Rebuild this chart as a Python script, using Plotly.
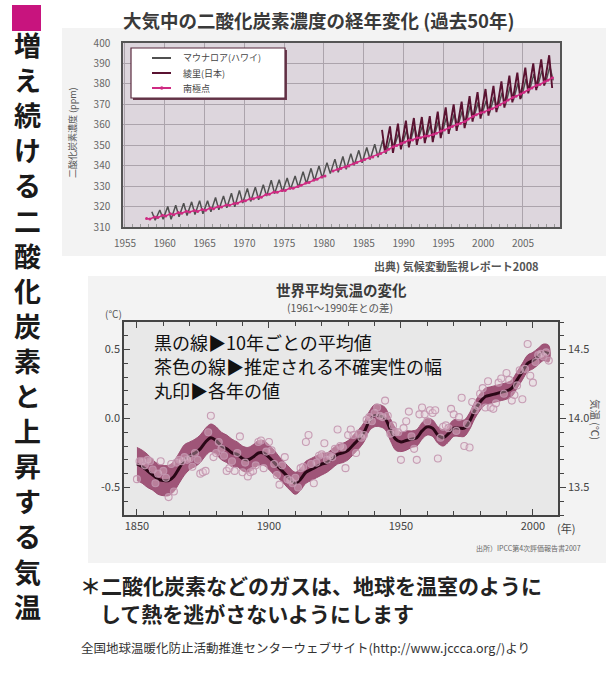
import plotly.graph_objects as go

W, H = 610, 678
FONT = "Noto Sans CJK JP"


def px(x):
    return x / W


def py(y):
    return 1 - y / H


# ---------------- CO2 data (ppm) ----------------
mlo_years = list(range(1958, 2009))
mlo_peak = [317.5, 318.3, 320.0, 320.6, 321.6, 322.3, 322.9, 322.8, 324.4, 325.2,
            326.5, 327.9, 328.9, 329.5, 330.7, 332.9, 333.1, 334.0, 335.0, 337.1,
            338.7, 339.9, 341.5, 343.2, 344.5, 345.9, 347.5, 348.9, 350.5, 352.4,
            354.2, 355.7, 357.2, 359.1, 359.6, 359.8, 361.8, 363.6, 365.3, 366.8,
            369.5, 371.0, 371.8, 373.6, 375.7, 378.6, 380.4, 382.4, 384.8, 386.4,
            388.5]
mlo_trough = [313.3, 313.8, 313.8, 315.0, 315.6, 316.1, 316.5, 317.4, 318.4, 319.4,
              319.9, 321.7, 322.5, 323.3, 325.1, 326.3, 327.2, 328.4, 329.3, 331.2,
              332.5, 333.9, 336.1, 336.8, 338.2, 340.2, 341.4, 343.0, 344.1, 345.8,
              349.0, 349.7, 351.0, 352.3, 353.0, 353.8, 355.2, 357.4, 359.0, 359.9,
              363.2, 364.5, 365.7, 367.6, 369.5, 372.0, 373.1, 376.5, 378.1, 379.9,
              381.7]
mlo_months = (5, 10)  # month of seasonal maximum / minimum

ryo_years = list(range(1987, 2009))
ryo_peak = [357.5, 359.2, 360.6, 362.0, 363.3, 363.8, 364.2, 366.4, 368.5, 370.0,
            371.3, 374.0, 376.0, 377.5, 379.0, 381.2, 384.0, 385.5, 388.0, 390.0,
            392.0, 394.0]
ryo_trough = [346.5, 346.3, 348.0, 349.0, 350.2, 351.0, 351.5, 353.5, 355.6, 357.0,
              358.4, 361.5, 363.0, 364.5, 366.2, 368.4, 371.0, 372.6, 375.4, 377.0,
              379.2, 378.0]
ryo_months = (4, 8.5)

sp_years = list(range(1957, 2009))
sp_low = [None, 313.9, 314.6, 315.4, 316.0, 316.7, 317.3, 317.6, 318.2, 318.9, 319.8,
          320.6, 321.6, 322.8, 323.8, 324.6, 326.0, 327.0, 327.9, 329.0, 330.4,
          331.8, 333.4, 335.0, 337.4, 338.6, 339.8, 341.6, 343.0, 344.3, 346.0,
          348.0, 349.9, 351.5, 352.6, 353.7, 354.5, 355.8, 357.4, 359.2, 360.6,
          362.8, 364.9, 366.3, 367.8, 369.8, 372.1, 373.9, 375.9, 378.0, 379.7,
          381.8]
sp_high = [314.2, 314.9, 315.7, 316.5, 317.1, 317.7, 318.1, 318.6, 319.3, 320.0,
           320.8, 321.5, 322.7, 323.8, 324.7, 325.9, 327.1, 327.9, 329.0, 329.8,
           331.5, 333.0, 334.5, None, 338.2, 339.3, 340.9, 342.4, 343.8, 345.3,
           347.0, 349.3, 350.8, 352.5, 353.6, 354.5, 355.2, 356.9, 358.6, 360.3,
           361.6, 364.2, 365.9, 367.3, 369.0, 371.0, 373.3, 375.0, 377.2, 379.3,
           381.0, 383.0]
sp_months = (2, 9)

co2_xticks = list(range(1955, 2010, 5))
co2_yticks = list(range(310, 401, 10))
co2_names = ["マウナロア(ハワイ)", "綾里(日本)", "南極点"]
co2_colors = ["#505050", "#5a1231", "#cf2a82"]

# ---------------- Temperature data (°C anomaly vs 1961-1990) ----------------
temp_baseline = 14.0  # 1961-1990 mean, links left and right axes
temp_years = list(range(1850, 2007))
temp_annual = [
    -0.44, -0.31, -0.31, -0.34, -0.30, -0.31, -0.37, -0.47, -0.40, -0.31,
    -0.38, -0.43, -0.57, -0.33, -0.53, -0.32, -0.30, -0.31, -0.28, -0.30,
    -0.29, -0.35, -0.25, -0.30, -0.40, -0.39, -0.38, -0.10, 0.02, -0.28,
    -0.25, -0.17, -0.22, -0.27, -0.38, -0.36, -0.31, -0.38, -0.25, -0.13,
    -0.39, -0.32, -0.42, -0.39, -0.38, -0.34, -0.17, -0.16, -0.36, -0.24,
    -0.17, -0.23, -0.33, -0.41, -0.48, -0.34, -0.28, -0.44, -0.45, -0.47,
    -0.43, -0.50, -0.36, -0.35, -0.17, -0.12, -0.33, -0.47, -0.32, -0.27,
    -0.26, -0.18, -0.30, -0.27, -0.28, -0.22, -0.08, -0.20, -0.21, -0.36,
    -0.12, -0.08, -0.12, -0.25, -0.11, -0.14, -0.12, -0.01, 0.01, -0.02,
    0.04, 0.08, 0.02, 0.01, 0.13, 0.02, -0.11, -0.05, -0.10, -0.10,
    -0.30, -0.07, -0.02, 0.05, -0.13, -0.22, -0.30, 0.03, 0.08, 0.03,
    -0.02, 0.06, 0.04, 0.06, -0.29, -0.14, -0.06, -0.05, -0.07, 0.07,
    0.03, -0.09, 0.01, 0.15, -0.20, -0.04, -0.21, 0.12, 0.06, 0.09,
    0.18, 0.22, 0.08, 0.27, 0.08, 0.07, 0.11, 0.26, 0.29, 0.18,
    0.33, 0.28, 0.13, 0.17, 0.24, 0.35, 0.14, 0.36, 0.54, 0.31,
    0.26, 0.41, 0.46, 0.47, 0.45, 0.48, 0.42]

smooth_years = list(range(1850, 2007, 2))
temp_smooth = [
    -0.33, -0.35, -0.38, -0.41, -0.44, -0.45, -0.45, -0.42, -0.36, -0.30,
    -0.27, -0.25, -0.22, -0.17, -0.14, -0.16, -0.20, -0.22, -0.25, -0.26,
    -0.29, -0.30, -0.28, -0.25, -0.25, -0.28, -0.32, -0.36, -0.40, -0.44,
    -0.47, -0.44, -0.39, -0.37, -0.35, -0.33, -0.32, -0.29, -0.26, -0.25,
    -0.23, -0.19, -0.15, -0.10, -0.02, 0.02, 0.02, 0.00, -0.08, -0.15,
    -0.17, -0.16, -0.15, -0.14, -0.09, -0.06, -0.07, -0.12, -0.14, -0.11,
    -0.07, -0.07, -0.07, -0.02, 0.06, 0.12, 0.16, 0.17, 0.18, 0.19,
    0.20, 0.22, 0.28, 0.34, 0.40, 0.42, 0.45, 0.48, 0.47]
temp_unc = [
    0.12, 0.12, 0.12, 0.11, 0.11, 0.11, 0.11, 0.11, 0.11, 0.11,
    0.10, 0.10, 0.10, 0.10, 0.10, 0.10, 0.10, 0.10, 0.10, 0.09,
    0.09, 0.09, 0.09, 0.09, 0.09, 0.09, 0.09, 0.08, 0.08, 0.08,
    0.08, 0.08, 0.08, 0.08, 0.08, 0.08, 0.07, 0.07, 0.07, 0.07,
    0.07, 0.07, 0.07, 0.07, 0.07, 0.08, 0.08, 0.08, 0.08, 0.08,
    0.07, 0.07, 0.06, 0.06, 0.06, 0.06, 0.06, 0.06, 0.06, 0.06,
    0.06, 0.06, 0.06, 0.06, 0.06, 0.06, 0.06, 0.06, 0.06, 0.06,
    0.06, 0.06, 0.06, 0.06, 0.06, 0.06, 0.06, 0.06, 0.06]
temp_xticks = [1850, 1900, 1950, 2000]
anom_ticks = [-0.5, 0.0, 0.5]
abs_ticks = [13.5, 14.0, 14.5]

page_title = "増え続ける二酸化炭素と上昇する気温"


def seasonal(years, a, b, months):
    xs, ys = [], []
    for yr, va, vb in zip(years, a, b):
        xs += [yr + (months[0] - 0.5) / 12, yr + (months[1] - 0.5) / 12]
        ys += [va, vb]
    return xs, ys


fig = go.Figure()

# CO2 traces
x, y = seasonal(mlo_years, mlo_peak, mlo_trough, mlo_months)
fig.add_trace(go.Scatter(x=x, y=y, mode="lines", name=co2_names[0],
                         line=dict(color=co2_colors[0], width=1.5), xaxis="x", yaxis="y"))
x, y = seasonal(ryo_years, ryo_peak, ryo_trough, ryo_months)
fig.add_trace(go.Scatter(x=x, y=y, mode="lines", name=co2_names[1],
                         line=dict(color=co2_colors[1], width=1.9), xaxis="x", yaxis="y"))
x, y = seasonal(sp_years, sp_low, sp_high, sp_months)
fig.add_trace(go.Scatter(x=x, y=y, mode="lines+markers", name=co2_names[2],
                         line=dict(color=co2_colors[2], width=1.5),
                         marker=dict(size=3, color=co2_colors[2]),
                         xaxis="x", yaxis="y"))

# Temperature traces
upper = [s + u for s, u in zip(temp_smooth, temp_unc)]
lower = [s - u for s, u in zip(temp_smooth, temp_unc)]
fig.add_trace(go.Scatter(x=smooth_years + smooth_years[::-1], y=upper + lower[::-1],
                         fill="toself", fillcolor="rgba(152,72,110,0.92)",
                         line=dict(color="rgba(152,72,110,0.92)", width=1, shape="spline"),
                         mode="lines", showlegend=False, hoverinfo="skip",
                         xaxis="x2", yaxis="y2"))
fig.add_trace(go.Scatter(x=smooth_years, y=temp_smooth, mode="lines", showlegend=False,
                         line=dict(color="#2a0716", width=3, shape="spline"),
                         xaxis="x2", yaxis="y2"))
# annual values, plotted against the absolute-temperature (right) axis
fig.add_trace(go.Scatter(x=temp_years, y=[temp_baseline + v for v in temp_annual],
                         mode="markers", showlegend=False,
                         marker=dict(size=7, color="rgba(235,210,222,0.35)",
                                     line=dict(color="rgba(195,150,175,0.9)", width=1.1)),
                         xaxis="x2", yaxis="y3"))

shapes = [
    # panels
    dict(type="rect", xref="paper", yref="paper", x0=px(62), x1=px(606), y0=py(256), y1=py(28),
         fillcolor="#f3f3f3", line=dict(width=0), layer="below"),
    dict(type="rect", xref="paper", yref="paper", x0=px(88), x1=px(606), y0=py(563), y1=py(276),
         fillcolor="#f3f3f3", line=dict(width=0), layer="below"),
    # plot backgrounds
    dict(type="rect", xref="x domain", yref="y domain", x0=0, x1=1, y0=0, y1=1,
         fillcolor="#ddd6dd", line=dict(width=0), layer="below"),
    dict(type="rect", xref="x2 domain", yref="y2 domain", x0=0, x1=1, y0=0, y1=1,
         fillcolor="#e8e8e8", line=dict(width=0), layer="below"),
    # magenta square
    dict(type="rect", xref="paper", yref="paper", x0=px(12), x1=px(41), y0=py(31), y1=py(5),
         fillcolor="#c8147e", line=dict(width=0)),
    # legend box (shadow + box)
    dict(type="rect", xref="paper", yref="paper", x0=px(133), x1=px(287), y0=py(100), y1=py(50),
         fillcolor="#6a3a4e", line=dict(width=0)),
    dict(type="rect", xref="paper", yref="paper", x0=px(131), x1=px(285), y0=py(98), y1=py(48),
         fillcolor="white", line=dict(color="#5a2a3e", width=1.2)),
]

ann = []


def A(text, x, y, size, color="#333", xanchor="center", yanchor="middle", angle=0):
    ann.append(dict(text=text, x=px(x), y=py(y), xref="paper", yref="paper",
                    xanchor=xanchor, yanchor=yanchor, showarrow=False, textangle=angle,
                    font=dict(family=FONT, size=size, color=color)))


# manual legend entries
for i, (nm, col) in enumerate(zip(co2_names, co2_colors)):
    ly = 58 + i * 15
    shapes.append(dict(type="line", xref="paper", yref="paper", x0=px(152), x1=px(171),
                       y0=py(ly), y1=py(ly), line=dict(color=col, width=2)))
    A(nm, 181, ly, 9, "#444", xanchor="left")
shapes.append(dict(type="circle", xref="paper", yref="paper", x0=px(160), x1=px(163.5),
                   y0=py(89.8), y1=py(86.2), fillcolor=co2_colors[2], line=dict(width=0)))

A("<b>大気中の二酸化炭素濃度の経年変化 (過去50年)</b>", 121, 20, 18.5, "#3a3a3a", xanchor="left")
A("二酸化炭素濃度 (ppm)", 72, 133, 9, "#555", angle=-90)
A("<b>出典) 気候変動監視レポート2008</b>", 541, 266, 11, "#555", xanchor="right")
A("<b>世界平均気温の変化</b>", 341, 290, 14.5, "#3a3a3a")
A("(1961～1990年との差)", 340, 307, 10.5, "#555")
A("(°C)", 113, 313, 10, "#555")
A("(年)", 566, 528, 11, "#444")
A("気温 (℃)", 596, 419, 10.5, "#555", angle=90)
A("出所）IPCC第4次評価報告書2007", 583, 548, 7, "#666", xanchor="right")
A("黒の線▶10年ごとの平均値", 152, 342, 18, "#111", xanchor="left")
A("茶色の線▶推定される不確実性の幅", 152, 366, 18, "#111", xanchor="left")
A("丸印▶各年の値", 152, 390, 18, "#111", xanchor="left")
A("<b>＊二酸化炭素などのガスは、地球を温室のように</b>", 78, 585, 21, "#222", xanchor="left")
A("<b>して熱を逃がさないようにします</b>", 98, 613, 21, "#222", xanchor="left")
A("全国地球温暖化防止活動推進センターウェブサイト(http://www.jccca.org/)より",
  79, 647, 12.5, "#333", xanchor="left")
A("<b>" + "<br>".join(page_title) + "</b>", 27, 325, 27, "#1a1a1a")

fig.update_layout(
    width=W, height=H, margin=dict(l=0, r=0, t=0, b=0, autoexpand=False),
    paper_bgcolor="white", plot_bgcolor="rgba(0,0,0,0)",
    font=dict(family=FONT),
    shapes=shapes, annotations=ann,
    showlegend=False,
    xaxis=dict(domain=[px(123), px(560)], range=[1954.75, 2009.65], anchor="y",
               automargin=False,
               tickvals=co2_xticks, showgrid=True, gridcolor="#aca4ac", gridwidth=1,
               showline=True, mirror=True, linecolor="#555", linewidth=1.5,
               ticks="", ticklabelstandoff=6, zeroline=False,
               tickfont=dict(family=FONT, size=10, color="#666"),
               minor=dict(dtick=1, ticks="inside", ticklen=3, tickcolor="#999", showgrid=False)),
    yaxis=dict(domain=[py(227), py(43)], range=[310, 400], anchor="x",
               automargin=False,
               tickvals=co2_yticks, showgrid=True, gridcolor="#aca4ac", gridwidth=1,
               showline=True, mirror=True, linecolor="#555", linewidth=1.5,
               ticks="", ticklabelstandoff=9, zeroline=False,
               tickfont=dict(family=FONT, size=10, color="#666")),
    xaxis2=dict(domain=[px(124), px(558)], range=[1845.1, 2009.5], anchor="y2",
                automargin=False,
                tickvals=temp_xticks, showgrid=False, zeroline=False,
                showline=True, mirror="ticks", linecolor="#444", linewidth=1.5,
                ticks="inside", ticklen=6, tickcolor="#444", tickwidth=1.3,
                tickfont=dict(family=FONT, size=11, color="#444"),
                minor=dict(dtick=10, ticks="inside", ticklen=4, tickcolor="#444")),
    yaxis2=dict(domain=[py(515), py(322)], range=[-0.7, 0.7], anchor="x2",
                automargin=False,
                tickvals=anom_ticks, ticktext=["-0.5", "0.0", "0.5"],
                showgrid=False, zeroline=False,
                showline=True, mirror=True, linecolor="#444", linewidth=1.5,
                ticks="inside", ticklen=6, tickcolor="#444", tickwidth=1.3,
                tickfont=dict(family=FONT, size=11, color="#444"),
                minor=dict(dtick=0.1, ticks="inside", ticklen=4, tickcolor="#444")),
    yaxis3=dict(overlaying="y2", anchor="x2", side="right",
                range=[temp_baseline - 0.7, temp_baseline + 0.7],
                automargin=False,
                tickvals=abs_ticks, ticktext=["13.5", "14.0", "14.5"],
                showgrid=False, zeroline=False, showline=True, linecolor="#444", linewidth=1.5,
                ticks="outside", ticklen=6, tickcolor="#444", tickwidth=1.3,
                tickfont=dict(family=FONT, size=11, color="#444"),
                minor=dict(dtick=0.1, ticks="outside", ticklen=4, tickcolor="#444")),
)

fig.write_html("out.html", config={"displayModeBar": False},
               post_script="document.body.style.margin='0';")
